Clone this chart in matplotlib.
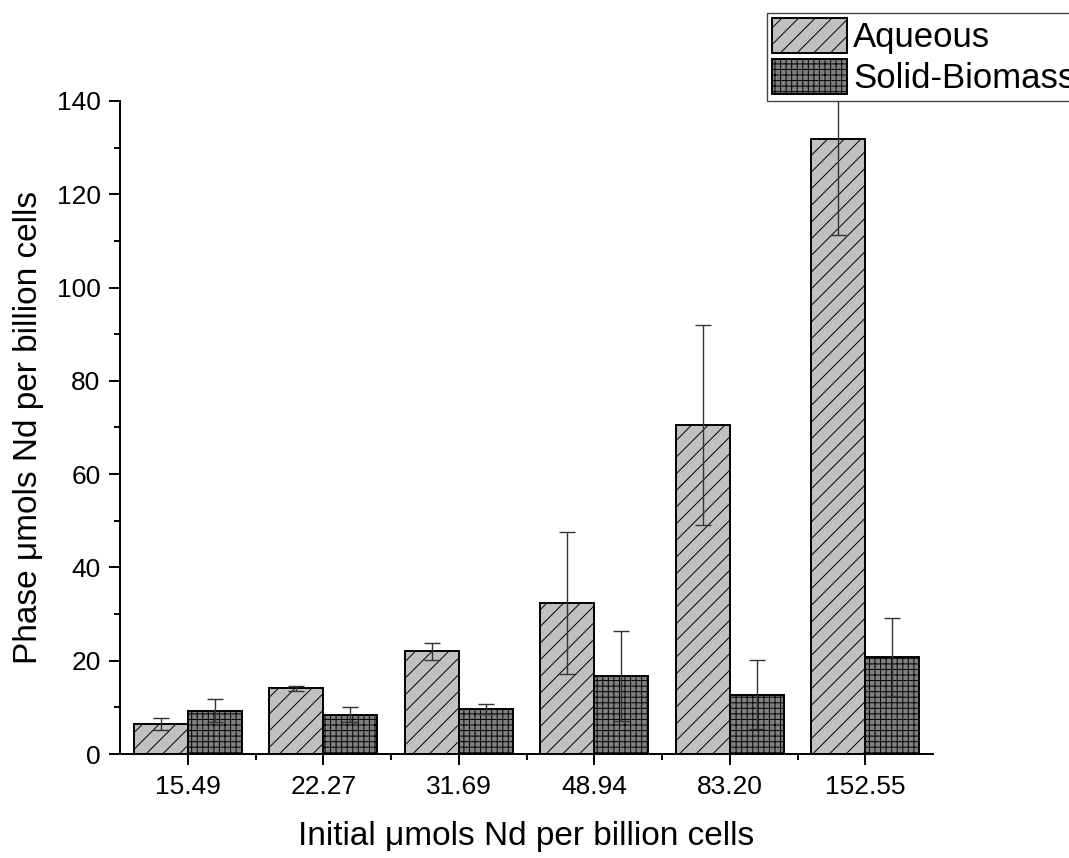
"""
Nd partitioning bar chart (aqueous vs solid-biomass phase)
"""
import matplotlib
matplotlib.use('Agg')
import matplotlib.pyplot as plt
from matplotlib.ticker import MultipleLocator, FixedLocator
import numpy as np

# Data
categories = ['15.49', '22.27', '31.69', '48.94', '83.20', '152.55']
aqueous = [6.4, 14.1, 22.0, 32.3, 70.5, 131.8]
aqueous_err = [1.3, 0.5, 1.8, 15.2, 21.5, 20.5]
solid = [9.3, 8.4, 9.6, 16.7, 12.7, 20.8]
solid_err = [2.5, 1.6, 1.1, 9.7, 7.4, 8.4]

plt.rcParams['font.family'] = ['Liberation Sans', 'DejaVu Sans']
plt.rcParams['hatch.linewidth'] = 0.7
plt.rcParams['hatch.color'] = 'black'

fig = plt.figure(figsize=(10.69, 8.58), dpi=100)
ax = fig.add_axes([0.1123, 0.1212, 0.7605, 0.7611])

x = np.arange(1, len(categories) + 1)
w = 0.4

b1 = ax.bar(x - w / 2, aqueous, w, color='#c0c0c0', edgecolor='black',
            linewidth=1.4, hatch='//', label='Aqueous', zorder=2)
b2 = ax.bar(x + w / 2, solid, w, color='#808080', edgecolor='black',
            linewidth=1.4, hatch='+++', label='Solid-Biomass', zorder=2)

# error bars (the tallest one runs above the axes, under the legend)
err_kw = dict(fmt='none', ecolor='#333333', elinewidth=1.0, capsize=6,
              capthick=1.0, zorder=3)
e1 = ax.errorbar(x - w / 2, aqueous, yerr=aqueous_err, **err_kw)
e2 = ax.errorbar(x + w / 2, solid, yerr=solid_err, **err_kw)
for e in (e1, e2):
    for line in e.lines[1]:
        line.set_clip_on(False)
    for col in e.lines[2]:
        col.set_clip_on(False)

ax.set_xlim(0.5, 6.5)
ax.set_ylim(0, 140)

ax.set_xticks(x)
ax.set_xticklabels(categories)
ax.xaxis.set_minor_locator(FixedLocator(np.arange(1.5, 6.5, 1.0)))
ax.yaxis.set_major_locator(MultipleLocator(20))
ax.yaxis.set_minor_locator(MultipleLocator(10))

ax.tick_params(axis='both', which='major', direction='out', length=8,
               width=1.4, labelsize=19)
ax.tick_params(axis='x', which='major', pad=7)
ax.tick_params(axis='y', which='major', pad=6)
ax.tick_params(axis='both', which='minor', direction='out', length=4,
               width=1.4)

for side in ['top', 'right']:
    ax.spines[side].set_visible(False)
for side in ['left', 'bottom']:
    ax.spines[side].set_linewidth(1.4)

ax.set_xlabel('Initial μmols Nd per billion cells', fontsize=24, labelpad=16)
ax.set_ylabel('Phase μmols Nd per billion cells', fontsize=24, labelpad=9)

fig.legend(handles=[b1, b2], loc='upper left',
           bbox_to_anchor=(767 / 1069, 1 - 13 / 858),
           fontsize=25, frameon=True, fancybox=False, shadow=False,
           edgecolor='#444444', framealpha=1.0, borderpad=0.15,
           labelspacing=0.15, handlelength=2.15, handleheight=1.15,
           handletextpad=0.18, borderaxespad=0)

plt.savefig('out.png', dpi=100)
plt.close(fig)
